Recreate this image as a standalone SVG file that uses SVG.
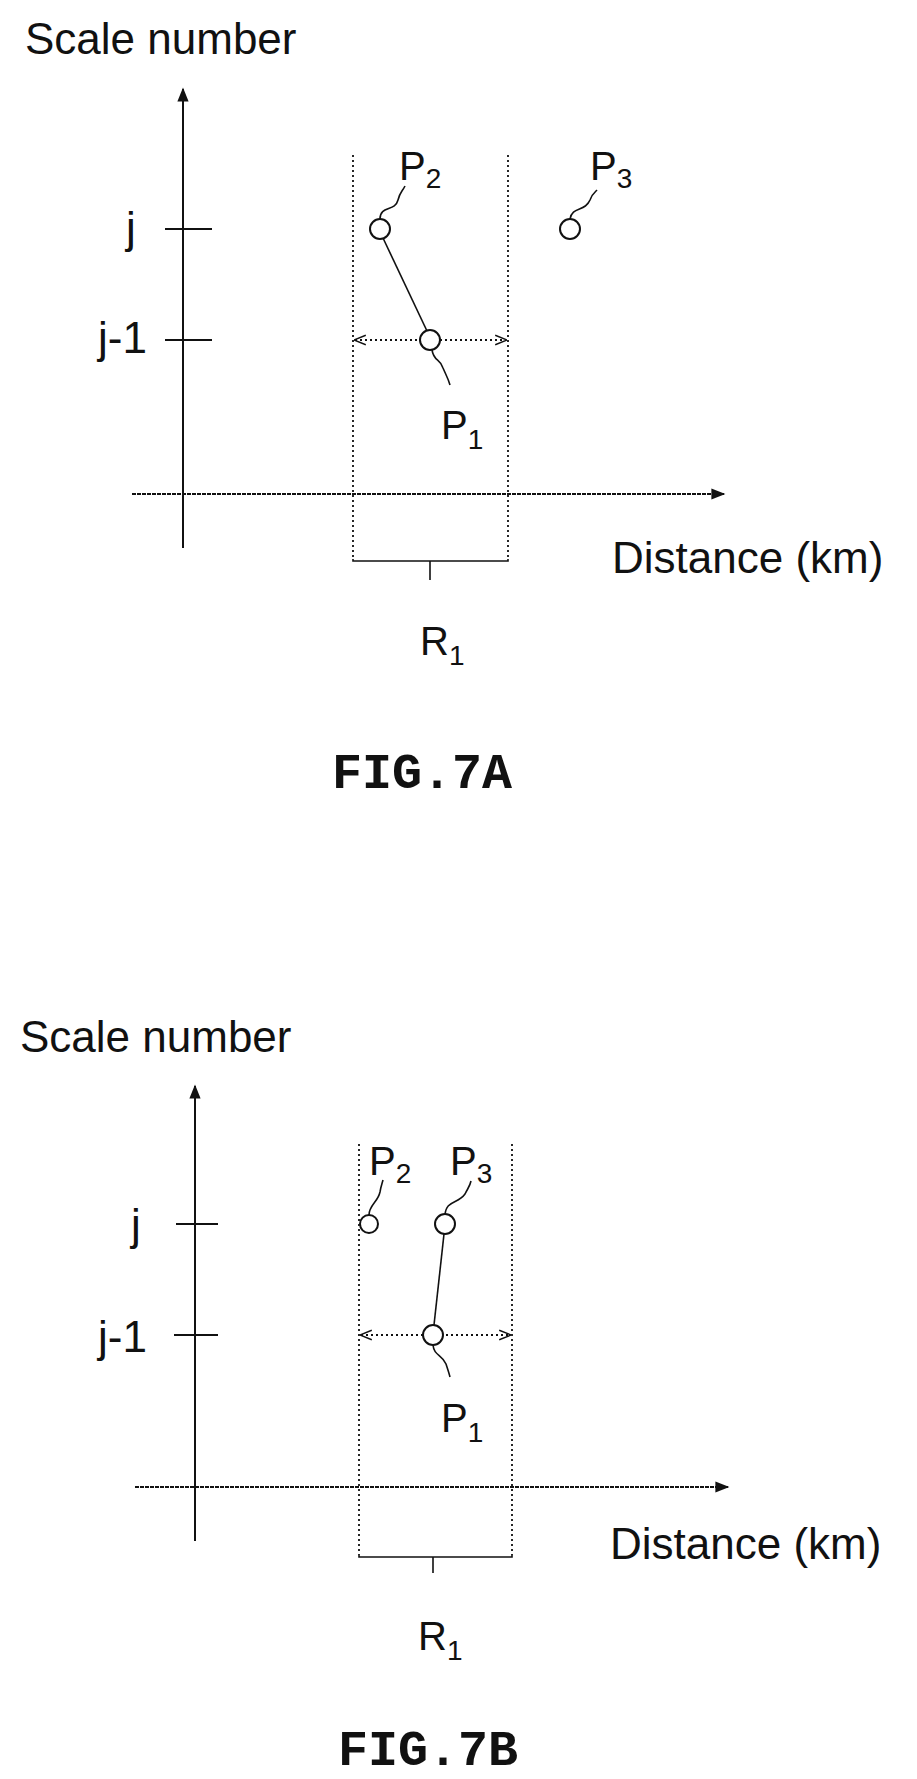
<svg xmlns="http://www.w3.org/2000/svg" width="917" height="1779" viewBox="0 0 917 1779">
<style>
text{font-family:"Liberation Sans",Arial,sans-serif;fill:#111}
.lbl{font-size:44px}
.p{font-size:40px}
.sub{font-size:28px}
.fig{font-family:"Liberation Mono","Courier New",monospace;font-weight:bold;font-size:50px}
.ax{stroke:#111;stroke-width:2;fill:none}
.dot{stroke:#111;stroke-width:1.8;fill:none;stroke-dasharray:2 3}
.ln{stroke:#111;stroke-width:1.6;fill:none}
.pt{stroke:#111;stroke-width:2;fill:#fff}
</style>
<defs>
<marker id="ah" viewBox="0 0 10 10" refX="9" refY="5" markerWidth="9" markerHeight="9" markerUnits="userSpaceOnUse" orient="auto"><path d="M0,1 L10,5 L0,9 Z" fill="#111"/></marker>
<marker id="ah2" viewBox="0 0 10 10" refX="9" refY="5" markerWidth="12" markerHeight="12" markerUnits="userSpaceOnUse" orient="auto-start-reverse"><path d="M0,1 L10,5 L0,9" fill="none" stroke="#111" stroke-width="1.2"/></marker>
<marker id="ahb" viewBox="0 0 10 10" refX="9" refY="5" markerWidth="16" markerHeight="14" markerUnits="userSpaceOnUse" orient="auto"><path d="M0,1 L10,5 L0,9 Z" fill="#111"/></marker>
</defs>
<g id="figA">
<g id="connectorsA">
<line class="ax" x1="183" y1="548" x2="183" y2="89" marker-end="url(#ahb)"/>
<line class="ax" x1="132" y1="494" x2="724" y2="494" stroke-dasharray="4 1" marker-end="url(#ahb)"/>
<line class="ax" x1="165" y1="229" x2="212" y2="229"/>
<line class="ax" x1="165" y1="340" x2="212" y2="340"/>
<line class="dot" x1="353" y1="155" x2="353" y2="559"/>
<line class="dot" x1="508" y1="155" x2="508" y2="559"/>
<path class="ln" d="M353,559 V561 H508 V559 M430,561 V580"/>
<line class="dot" x1="355" y1="340" x2="506" y2="340" marker-start="url(#ah2)" marker-end="url(#ah2)"/>
<line class="ln" x1="383" y1="238" x2="427" y2="331"/>
<path class="ln" d="M380,219 C380,205 395,212 398,200 C400,192 402,192 405,186"/>
<path class="ln" d="M570,219 C572,206 585,212 590,200 C592,194 595,192 597,190"/>
<path class="ln" d="M432,350 C434,362 440,358 443,368 C446,375 448,378 450,385"/>
</g>
<g id="nodesA">
<circle class="pt" cx="380" cy="229" r="10"/>
<circle class="pt" cx="430" cy="340" r="10"/>
<circle class="pt" cx="570" cy="229" r="10"/>
</g>
<text class="lbl" x="25" y="54">Scale number</text>
<text class="lbl" x="126" y="243">j</text>
<text class="lbl" x="98" y="353">j-1</text>
<text class="p" x="399" y="180">P<tspan class="sub" dy="8">2</tspan></text>
<text class="p" x="590" y="180">P<tspan class="sub" dy="8">3</tspan></text>
<text class="p" x="441" y="439">P<tspan class="sub" dy="10">1</tspan></text>
<text class="lbl" x="612" y="573">Distance (km)</text>
<text class="p" x="420" y="655">R<tspan class="sub" dy="10">1</tspan></text>
<text class="fig" x="332" y="788">FIG.7A</text>
</g>
<g id="figB">
<g id="connectorsB">
<line class="ax" x1="195" y1="1541" x2="195" y2="1086" marker-end="url(#ahb)"/>
<line class="ax" x1="135" y1="1487" x2="728" y2="1487" stroke-dasharray="4 1" marker-end="url(#ahb)"/>
<line class="ax" x1="176" y1="1224" x2="218" y2="1224"/>
<line class="ax" x1="174" y1="1335" x2="218" y2="1335"/>
<line class="dot" x1="359" y1="1144" x2="359" y2="1555"/>
<line class="dot" x1="512" y1="1144" x2="512" y2="1555"/>
<path class="ln" d="M359,1555 V1557 H512 V1555 M433,1557 V1573"/>
<line class="dot" x1="361" y1="1335" x2="510" y2="1335" marker-start="url(#ah2)" marker-end="url(#ah2)"/>
<line class="ln" x1="444" y1="1234" x2="434" y2="1325"/>
<path class="ln" d="M369,1215 C369,1205 378,1202 380,1192 C381,1186 382,1184 383,1180"/>
<path class="ln" d="M445,1215 C446,1200 458,1204 465,1194 C468,1188 470,1186 471,1181"/>
<path class="ln" d="M433,1345 C434,1356 442,1354 446,1364 C448,1370 449,1373 450,1377"/>
</g>
<g id="nodesB">
<circle class="pt" cx="369" cy="1224" r="9"/>
<circle class="pt" cx="445" cy="1224" r="10"/>
<circle class="pt" cx="433" cy="1335" r="10"/>
</g>
<text class="lbl" x="20" y="1052">Scale number</text>
<text class="lbl" x="131" y="1240">j</text>
<text class="lbl" x="98" y="1352">j-1</text>
<text class="p" x="369" y="1175">P<tspan class="sub" dy="8">2</tspan></text>
<text class="p" x="450" y="1175">P<tspan class="sub" dy="8">3</tspan></text>
<text class="p" x="441" y="1432">P<tspan class="sub" dy="10">1</tspan></text>
<text class="lbl" x="610" y="1559">Distance (km)</text>
<text class="p" x="418" y="1650">R<tspan class="sub" dy="10">1</tspan></text>
<text class="fig" x="338" y="1765">FIG.7B</text>
</g>
</svg>
